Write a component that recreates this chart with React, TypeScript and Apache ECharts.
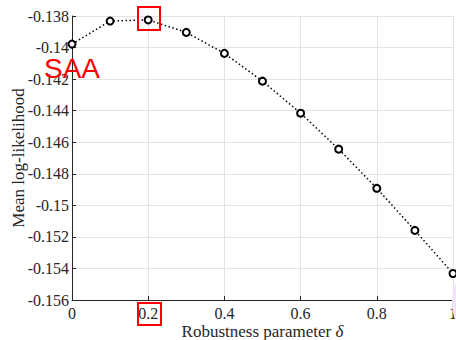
import React, { useEffect, useRef } from "react";
import * as echarts from "echarts";

const deltas = [0, 0.1, 0.2, 0.3, 0.4, 0.5, 0.6, 0.7, 0.8, 0.9, 1.0];
const meanLogLik = [-0.13978, -0.13832, -0.13825, -0.13904, -0.14037, -0.14213, -0.14416, -0.14644, -0.14892, -0.15159, -0.15432];
const xTicks = [0, 0.2, 0.4, 0.6, 0.8, 1];
const yTicks = [-0.156, -0.154, -0.152, -0.15, -0.148, -0.146, -0.144, -0.142, -0.14, -0.138];

export default function App() {
  const ref = useRef<HTMLDivElement>(null);
  useEffect(() => {
    const chart = echarts.init(ref.current!, null, { renderer: "svg" });
    const serif = "'Liberation Serif', 'DejaVu Serif', serif";
    chart.setOption({
      animation: false,
      grid: { left: 72, right: 3, top: 16, bottom: 40, outerBoundsMode: "none", containLabel: false },
      xAxis: {
        type: "value",
        min: 0,
        max: 1,
        interval: 0.2,
        name: "Robustness parameter {i|δ}",
        nameLocation: "middle",
        nameGap: 23,
        nameMoveOverlap: false,
        nameTextStyle: {
          fontFamily: serif, fontSize: 17, color: "#262626",
          rich: { i: { fontFamily: serif, fontSize: 17, fontStyle: "italic", color: "#262626" } },
        },
        axisLine: { show: true, lineStyle: { color: "#262626", width: 1 } },
        axisTick: { show: true, inside: true, length: 4, lineStyle: { color: "#262626" } },
        axisLabel: {
          fontFamily: serif, fontSize: 16, color: "#262626", margin: 5,
          formatter: (v: number) => (xTicks.includes(Math.round(v * 10) / 10) ? String(Math.round(v * 10) / 10) : ""),
        },
        splitLine: { show: true, lineStyle: { color: "#e3e3e3", width: 1 } },
      },
      yAxis: {
        type: "value",
        min: -0.156,
        max: -0.138,
        interval: 0.002,
        name: "Mean log-likelihood",
        nameLocation: "middle",
        nameGap: 45,
        nameMoveOverlap: false,
        nameTextStyle: { fontFamily: serif, fontSize: 17, color: "#262626" },
        axisLine: { show: true, lineStyle: { color: "#262626", width: 1 } },
        axisTick: { show: true, inside: true, length: 4, lineStyle: { color: "#262626" } },
        axisLabel: {
          fontFamily: serif, fontSize: 16, color: "#262626", margin: 3,
          formatter: (v: number) => {
            const r = Math.round(v * 1000) / 1000;
            const t = yTicks.find((y) => Math.abs(y - r) < 1e-9);
            return t === undefined ? "" : String(t);
          },
        },
        splitLine: { show: true, lineStyle: { color: "#e3e3e3", width: 1 } },
      },
      series: [
        {
          type: "line",
          data: deltas.map((d, i) => [d, meanLogLik[i]]),
          lineStyle: { color: "#000", width: 1.5, type: [1.5, 2.5] },
          symbol: "circle",
          symbolSize: 7,
          itemStyle: { color: "#fff", borderColor: "#000", borderWidth: 2 },
          z: 5,
        },
      ],
      graphic: [
        { type: "ellipse", shape: { cx: 463, cy: 302, rx: 11, ry: 25 }, style: { fill: "#f1e2fb" }, z: 1 },
        { type: "rect", shape: { x: 138, y: 7, width: 22, height: 23 }, style: { fill: "none", stroke: "#ff0000", lineWidth: 2 }, z: 10 },
        { type: "rect", shape: { x: 138, y: 303, width: 23, height: 22 }, style: { fill: "none", stroke: "#ff0000", lineWidth: 2 }, z: 10 },
        { type: "text", x: 44, y: 54, style: { text: "SAA", fill: "#ff0000", fontSize: 28, fontFamily: "'Liberation Sans', Arial, sans-serif" }, z: 10 },
      ],
    });
    return () => chart.dispose();
  }, []);
  return <div ref={ref} style={{ width: 456, height: 340, position: "absolute", left: 0, top: 0 }} />;
}
